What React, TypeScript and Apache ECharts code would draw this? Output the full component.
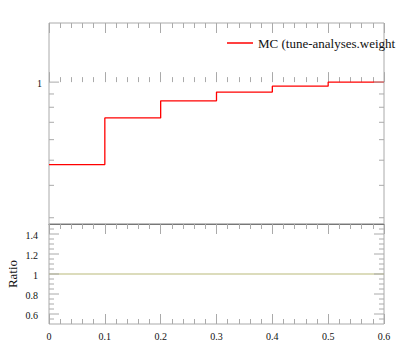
import React, { useEffect, useRef } from "react";
import * as echarts from "echarts";

// ---- data ----
const binEdges = [0, 0.1, 0.2, 0.3, 0.4, 0.5, 0.6];
const mainValues = [0.481, 0.728, 0.847, 0.915, 0.965, 1.0];
const ratioValues = [1, 1, 1, 1, 1, 1];
const seriesName = "MC (tune-analyses.weight";

const mainYRange = [0.2838, 1.69]; // log axis extent
const ratioYRange = [0.5, 1.5];

const mainMajorTicks = [1];
const mainMinorTicks = [0.9, 0.8, 0.7, 0.6, 0.5, 0.4, 0.3];
const ratioMajorTicks = [0.6, 0.8, 1, 1.2, 1.4];
const ratioMinorTicks = [0.55, 0.65, 0.7, 0.75, 0.85, 0.9, 0.95, 1.05, 1.1, 1.15, 1.25, 1.3, 1.35, 1.45];

const FONT = "Liberation Serif, DejaVu Serif, serif";
const AXIS_GREY = "#aaaaaa";

function stepData(values: number[], tf: (v: number) => number) {
  const d = values.map((v, i) => [binEdges[i], tf(v)]);
  d.push([binEdges[binEdges.length - 1], tf(values[values.length - 1])]);
  return d;
}

function tickSeries(
  xAxisIndex: number,
  yAxisIndex: number,
  majors: number[],
  minors: number[],
  tf: (v: number) => number,
  labelRightGap: number
) {
  const data = [
    ...majors.map((v) => [0, tf(v), 1, v]),
    ...minors.map((v) => [0, tf(v), 0, v]),
  ];
  return {
    type: "custom",
    xAxisIndex,
    yAxisIndex,
    silent: true,
    clip: false,
    z: 10,
    data,
    renderItem: (params: any, api: any) => {
      const y = api.value(1);
      const major = api.value(2) === 1;
      const raw = api.value(3);
      const pL = api.coord([binEdges[0], y]);
      const pR = api.coord([binEdges[binEdges.length - 1], y]);
      const len = major ? 10 : 5;
      const children: any[] = [
        {
          type: "line",
          shape: { x1: pL[0], y1: pL[1], x2: pL[0] + len, y2: pL[1] },
          style: { stroke: AXIS_GREY, lineWidth: 1 },
        },
        {
          type: "line",
          shape: { x1: pR[0] - len, y1: pR[1], x2: pR[0], y2: pR[1] },
          style: { stroke: AXIS_GREY, lineWidth: 1 },
        },
      ];
      if (major) {
        children.push({
          type: "text",
          x: pL[0] - labelRightGap,
          y: pL[1] + 1,
          style: {
            text: String(raw),
            fontFamily: FONT,
            fontSize: 10,
            fill: "#111",
            align: "right",
            verticalAlign: "middle",
          },
        });
      }
      return { type: "group", children };
    },
  };
}

function xAxisDef(gridIndex: number, position: string, opts: any = {}) {
  return {
    type: "value",
    gridIndex,
    position,
    min: binEdges[0],
    max: binEdges[binEdges.length - 1],
    interval: 0.1,
    axisLine: { show: false },
    axisTick: { show: true, inside: true, length: 10, lineStyle: { color: AXIS_GREY, width: 1 } },
    minorTick: { show: true, splitNumber: 5, length: 5, lineStyle: { color: AXIS_GREY, width: 1 } },
    axisLabel: { show: false },
    splitLine: { show: false },
    minorSplitLine: { show: false },
    ...opts,
  };
}

export default function App() {
  const ref = useRef<HTMLDivElement>(null);

  useEffect(() => {
    if (!ref.current) return;
    const chart = echarts.init(ref.current, null, { renderer: "svg" });
    const lg = (v: number) => Math.log10(v);
    const id = (v: number) => v;

    chart.setOption({
      animation: false,
      backgroundColor: "#ffffff",
      textStyle: { fontFamily: FONT },
      grid: [
        { left: 49, top: 23, width: 335, height: 201, show: true, borderColor: AXIS_GREY, borderWidth: 1, backgroundColor: "transparent" },
        { left: 49, top: 224, width: 335, height: 100, show: true, borderColor: AXIS_GREY, borderWidth: 1, backgroundColor: "transparent" },
      ],
      legend: {
        data: [{ name: seriesName, icon: "rect" }],
        left: 227,
        top: 36,
        padding: 0,
        itemWidth: 26,
        itemHeight: 1.5,
        textStyle: { fontFamily: FONT, fontSize: 13, color: "#111", lineHeight: 14 },
        selectedMode: false,
      },
      xAxis: [
        xAxisDef(0, "bottom"),
        xAxisDef(0, "top"),
        xAxisDef(1, "top", { axisLine: { show: true, lineStyle: { color: "#777777", width: 1 } } }),
        xAxisDef(1, "bottom", {
          axisLabel: {
            show: true,
            margin: 7,
            fontFamily: FONT,
            fontSize: 10,
            color: "#111",
            formatter: (v: number) => String(Math.round(v * 10) / 10),
          },
        }),
      ],
      yAxis: [
        {
          type: "value",
          gridIndex: 0,
          min: lg(mainYRange[0]),
          max: lg(mainYRange[1]),
          axisLine: { show: false },
          axisTick: { show: false },
          axisLabel: { show: false },
          splitLine: { show: false },
        },
        {
          type: "value",
          gridIndex: 1,
          min: ratioYRange[0],
          max: ratioYRange[1],
          axisLine: { show: false },
          axisTick: { show: false },
          axisLabel: { show: false },
          splitLine: { show: false },
        },
      ],
      graphic: [
        {
          type: "text",
          x: 12,
          y: 274,
          rotation: Math.PI / 2,
          style: {
            text: "Ratio",
            fontFamily: FONT,
            fontSize: 13,
            fill: "#111",
            align: "center",
            verticalAlign: "middle",
          },
        },
      ],
      series: [
        {
          name: seriesName,
          type: "line",
          xAxisIndex: 0,
          yAxisIndex: 0,
          step: "end",
          symbol: "none",
          color: "#ff0000",
          lineStyle: { color: "#ff0000", width: 1.3 },
          data: stepData(mainValues, lg),
          z: 5,
        },
        {
          name: "ratio",
          type: "line",
          xAxisIndex: 3,
          yAxisIndex: 1,
          step: "end",
          symbol: "none",
          color: "#b9b97a",
          lineStyle: { color: "#b9b97a", width: 1.2 },
          data: stepData(ratioValues, id),
          z: 5,
        },
        tickSeries(0, 0, mainMajorTicks, mainMinorTicks, lg, 7),
        tickSeries(3, 1, ratioMajorTicks, ratioMinorTicks, id, 11),
      ],
    });

    return () => chart.dispose();
  }, []);

  return (
    <div
      ref={ref}
      style={{ position: "fixed", left: 0, top: 0, width: 397, height: 358 }}
    />
  );
}
